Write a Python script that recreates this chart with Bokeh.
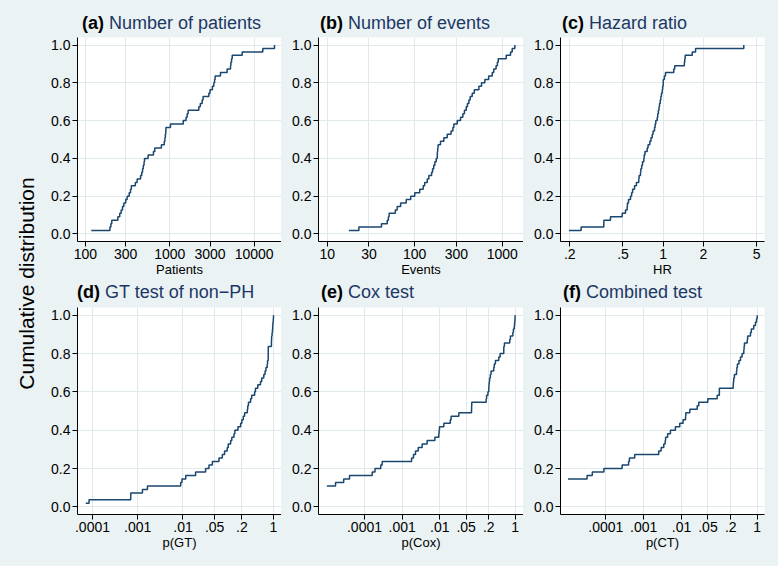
import numpy as np
from bokeh.plotting import figure
from bokeh.layouts import row, column
from bokeh.models import Range1d, FixedTicker, CustomJSTickFormatter, NumeralTickFormatter, Div
from bokeh.core.properties import value
from bokeh.embed import file_html
from bokeh.resources import INLINE

# ---------------- data (sorted trial-level values, 55 trials per panel) ----------------
patients = [117, 195, 200, 205, 242, 255, 265, 275, 285, 300, 312, 330, 342, 350, 390, 410,
            450, 465, 475, 485, 495, 501, 553, 640, 664, 795, 860, 875, 885, 895, 900, 1018,
            1443, 1560, 1607, 1650, 2208, 2300, 2421, 2480, 2905, 3000, 3200, 3329, 3400, 3450,
            3990, 4786, 5248, 5300, 5400, 5500, 7228, 12680, 17460]
events = [17.7, 23, 41.7, 48.5, 50, 51, 60, 63, 69, 80, 90, 100, 114, 125, 130, 139, 145, 156,
          160, 165, 170, 176, 181, 181.5, 183, 185, 197, 215, 235, 260, 273, 280, 306, 334, 355,
          370, 388, 400, 416, 430, 454, 480, 541, 580, 633, 700, 769, 800, 850, 880, 900, 1111,
          1245, 1300, 1394]
hazard_ratio = [0.197, 0.243, 0.359, 0.3595, 0.403, 0.493, 0.522, 0.537, 0.54, 0.55, 0.569, 0.58,
                0.59, 0.61, 0.63, 0.656, 0.66, 0.676, 0.68, 0.69, 0.70, 0.716, 0.72, 0.73, 0.759,
                0.77, 0.794, 0.81, 0.828, 0.84, 0.861, 0.87, 0.88, 0.902, 0.91, 0.92, 0.93, 0.938,
                0.95, 0.96, 0.97, 0.983, 0.99, 1.0, 1.001, 1.02, 1.04, 1.2, 1.22, 1.44, 1.45, 1.46,
                1.65, 1.746, 4.01]
p_gt = [7.1e-5, 8.4e-5, 7e-4, 7.01e-4, 1.27e-3, 1.64e-3, 8.9e-3, 9.5e-3, 0.0115, 0.019, 0.0316,
        0.0375, 0.0446, 0.0624, 0.074, 0.083, 0.095, 0.1, 0.113, 0.12, 0.134, 0.14, 0.164, 0.188,
        0.2, 0.215, 0.23, 0.264, 0.27, 0.28, 0.312, 0.33, 0.383, 0.4, 0.45, 0.516, 0.55, 0.61,
        0.65, 0.68, 0.726, 0.74, 0.764, 0.765, 0.766, 0.767, 0.9, 0.901, 0.91, 0.93, 0.95, 0.96,
        0.97, 0.99, 1.0]
p_cox = [1e-5, 1e-5, 1e-5, 1e-5, 1e-5, 1e-5, 1.7e-5, 2.8e-5, 4e-5, 1.6e-4, 1.9e-4, 2.7e-4,
         2.95e-4, 1.78e-3, 2.0e-3, 2.26e-3, 2.67e-3, 3.4e-3, 4.6e-3, 7.4e-3, 9.4e-3, 9.6e-3,
         9.8e-3, 0.0128, 0.019, 0.02, 0.032, 0.0696, 0.07, 0.0705, 0.17, 0.175, 0.19, 0.2, 0.201,
         0.205, 0.21, 0.22, 0.23, 0.27, 0.28, 0.3, 0.369, 0.4, 0.5, 0.501, 0.52, 0.72, 0.75, 0.87,
         0.9, 0.95, 0.97, 0.99, 1.0]
p_ct = [1e-5, 1e-5, 1e-5, 1e-5, 1e-5, 1e-5, 1e-5, 1e-5, 3.2e-5, 4.4e-5, 8.9e-5, 2.7e-4, 4.0e-4,
        4.2e-4, 5.8e-4, 2.5e-3, 2.9e-3, 3.4e-3, 3.7e-3, 3.8e-3, 4.3e-3, 5.1e-3, 6.9e-3, 9e-3,
        0.011, 0.0128, 0.013, 0.0166, 0.026, 0.0286, 0.0495, 0.0877, 0.1, 0.1001, 0.232, 0.235,
        0.24, 0.25, 0.284, 0.29, 0.3, 0.33, 0.362, 0.4, 0.443, 0.45, 0.46, 0.545, 0.56, 0.665,
        0.7, 0.81, 0.9, 0.96, 1.0]

panel_tags = ["(a)", "(b)", "(c)", "(d)", "(e)", "(f)"]
panel_titles = ["Number of patients", "Number of events", "Hazard ratio",
                "GT test of non\u2212PH", "Cox test", "Combined test"]
x_titles = ["Patients", "Events", "HR", "p(GT)", "p(Cox)", "p(CT)"]
y_title = "Cumulative distribution"

ticks_patients = [100, 300, 1000, 3000, 10000]
labels_patients = ["100", "300", "1000", "3000", "10000"]
ticks_events = [10, 30, 100, 300, 1000]
labels_events = ["10", "30", "100", "300", "1000"]
ticks_hr = [0.2, 0.5, 1, 2, 5]
labels_hr = [".2", ".5", "1", "2", "5"]
ticks_p = [0.0001, 0.001, 0.01, 0.05, 0.2, 1]
labels_p = [".0001", ".001", ".01", ".05", ".2", "1"]
y_ticks = [0, 0.2, 0.4, 0.6, 0.8, 1.0]

# ---------------- styling ----------------
BG = "#eaf2f3"
GRID = "#e0e9ec"
LINE = "#1a476f"
TITLE_C = "#1c3766"
FONT = "Liberation Sans"

series = [patients, events, hazard_ratio, p_gt, p_cox, p_ct]
tick_sets = [(ticks_patients, labels_patients), (ticks_events, labels_events),
             (ticks_hr, labels_hr), (ticks_p, labels_p), (ticks_p, labels_p), (ticks_p, labels_p)]
x_limits = [(80.4, 21135), (7.95, 1750), (0.1703, 5.73),
            (10 ** -4.331, 10 ** 0.177), (10 ** -5.222, 10 ** 0.223), (10 ** -5.197, 10 ** 0.193)]
title_left = [42, 39, 39, 37, 40, 40]


def make_title(i, width, height, top):
    html = ('<div style="white-space:nowrap;font-family:\'%s\';font-size:18px;line-height:18px;'
            'padding-left:%dpx;padding-top:%dpx;margin:0;">'
            '<span style="font-weight:bold;color:black;">%s</span>'
            '<span style="color:%s;"> %s</span></div>'
            % (FONT, title_left[i], top, panel_tags[i], TITLE_C, panel_titles[i]))
    return Div(text=html, width=width, height=height,
               styles={"background-color": BG, "margin": "0", "padding": "0", "overflow": "visible"})


def make_panel(i, width, height, bl, br, bb):
    vals = np.array(series[i], dtype=float)
    n = len(vals)
    xs, counts = np.unique(vals, return_counts=True)
    ys = np.cumsum(counts) / n
    x0, x1 = x_limits[i]
    p = figure(width=width, height=height, x_axis_type="log",
               x_range=Range1d(x0, x1), y_range=Range1d(-0.04, 1.04),
               output_backend="svg", toolbar_location=None,
               min_border_left=bl, min_border_right=br, min_border_top=0, min_border_bottom=bb)
    p.background_fill_color = "white"
    p.border_fill_color = BG
    p.outline_line_color = None
    p.step(xs, ys, mode="after", line_color=LINE, line_width=1.5)

    ticks, labs = tick_sets[i]
    p.xaxis.ticker = FixedTicker(ticks=ticks, minor_ticks=[])
    p.xaxis.formatter = CustomJSTickFormatter(args=dict(vals=ticks, labs=labs), code="""
        for (let k = 0; k < vals.length; k++) {
            if (Math.abs(Math.log(vals[k]) - Math.log(tick)) < 1e-6) return labs[k];
        }
        return '';
    """)
    p.yaxis.ticker = FixedTicker(ticks=y_ticks, minor_ticks=[])
    p.yaxis.formatter = NumeralTickFormatter(format="0.0")
    p.xaxis.axis_label = x_titles[i]
    for ax in (p.xaxis[0], p.yaxis[0]):
        ax.axis_line_color = "black"
        ax.axis_line_width = 1
        ax.major_tick_line_color = "black"
        ax.major_tick_out = 5
        ax.major_tick_in = 0
        ax.minor_tick_line_color = None
        ax.major_label_text_font = FONT
        ax.major_label_text_font_size = "14px"
        ax.major_label_text_color = "black"
        ax.major_label_standoff = 2
        ax.axis_label_text_font = FONT
        ax.axis_label_text_font_size = "13px"
        ax.axis_label_text_font_style = "normal"
        ax.axis_label_text_color = "black"
        ax.axis_label_standoff = 0
    p.yaxis.major_label_orientation = "horizontal"
    p.xgrid.grid_line_color = GRID
    p.ygrid.grid_line_color = GRID
    p.xgrid.grid_line_width = 1
    p.ygrid.grid_line_width = 1
    return p


TOP_T, TOP_P = 37, 242
BOT_T, BOT_P = 28, 259
widths = [241, 242, 255]
right_b = [0, 0, 14]
cols_top, cols_bot = [], []
for i in range(6):
    c = i % 3
    if i < 3:
        t = make_title(i, widths[c], TOP_T, 14)
        p = make_panel(i, widths[c], TOP_P, 37, right_b[c], 35)
        cols_top.append(column(t, p))
    else:
        t = make_title(i, widths[c], BOT_T, 4)
        p = make_panel(i, widths[c], BOT_P, 37, right_b[c], 52)
        cols_bot.append(column(t, p))

lab = figure(width=40, height=566, x_range=Range1d(0, 40), y_range=Range1d(0, 566),
             x_axis_location=None, y_axis_location=None,
             output_backend="svg", toolbar_location=None,
             min_border_left=0, min_border_right=0, min_border_top=0, min_border_bottom=0)
lab.grid.visible = False
lab.outline_line_color = None
lab.background_fill_color = BG
lab.border_fill_color = BG
lab.text(x=[26], y=[283], text=[y_title], angle=np.pi / 2, text_align="center",
         text_baseline="middle", text_font=value(FONT), text_font_size="21px", text_color="black")

layout = row(lab, column(row(*cols_top), row(*cols_bot)))

html = file_html(layout, INLINE, title="Cumulative distributions")
html = html.replace("<head>", "<head><style>html,body{margin:0;padding:0;background:%s;overflow:hidden;}</style>" % BG, 1)
open("out.html", "w").write(html)
